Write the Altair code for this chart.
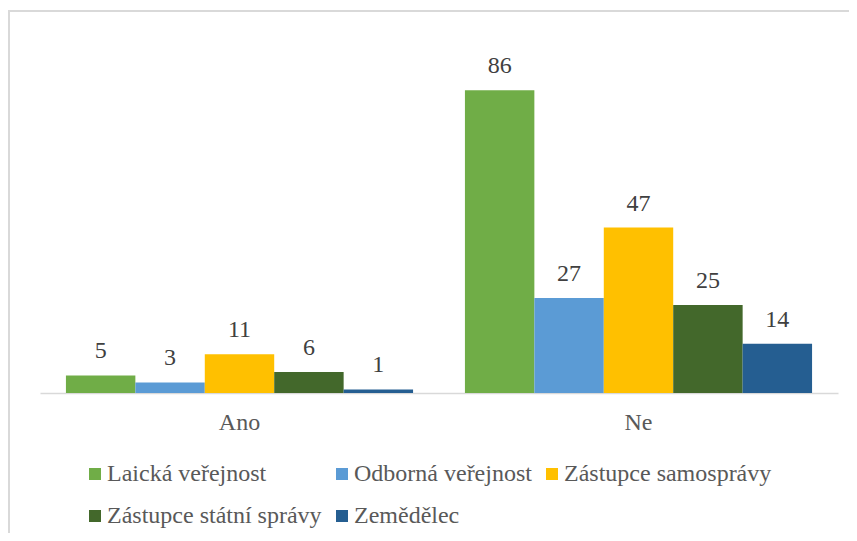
import altair as alt
import pandas as pd

categories = ["Ano", "Ne"]
series = ["Laická veřejnost", "Odborná veřejnost", "Zástupce samosprávy",
          "Zástupce státní správy", "Zemědělec"]
values_ano = [5, 3, 11, 6, 1]
values_ne = [86, 27, 47, 25, 14]
colors = ["#70AD47", "#5B9BD5", "#FFC000", "#43682B", "#255E91"]

rows = []
for cat, vals in zip(categories, [values_ano, values_ne]):
    for s, v in zip(series, vals):
        rows.append({"odpoved": cat, "skupina": s, "pocet": v})
df = pd.DataFrame(rows)

FONT = "'Times New Roman', 'Liberation Serif', 'DejaVu Serif', serif"

base = alt.Chart(df).encode(
    x=alt.X("odpoved:N", sort=categories, title=None,
            scale=alt.Scale(paddingInner=0.13, paddingOuter=0.065),
            axis=alt.Axis(labelAngle=0, ticks=False, tickSize=0, grid=False,
                          domainColor="#d9d9d9", domainWidth=1.5,
                          labelFont=FONT, labelFontSize=24, labelColor="#595959",
                          labelPadding=17)),
    xOffset=alt.XOffset("skupina:N", sort=series,
                        scale=alt.Scale(paddingInner=0, paddingOuter=0)),
    y=alt.Y("pocet:Q", scale=alt.Scale(domain=[0, 100]), axis=None),
)

bars = base.mark_bar().encode(
    color=alt.Color("skupina:N", sort=series,
                    scale=alt.Scale(domain=series, range=colors),
                    legend=alt.Legend(title=None, orient="none", legendX=43, legendY=421,
                                      direction="horizontal", columns=3, gridAlign="each",
                                      columnPadding=8, rowPadding=18,
                                      symbolType="square", symbolSize=144,
                                      symbolStrokeWidth=0, labelOffset=0,
                                      labelFont=FONT, labelFontSize=24,
                                      labelColor="#595959", labelLimit=400))
)

labels = base.mark_text(font=FONT, fontSize=24, color="#404040",
                        baseline="alphabetic", dy=-17).encode(text="pocet:Q")

border_top = alt.Chart(df).mark_rule(color="#d9d9d9", strokeWidth=1.5).encode(
    x=alt.value(-32), x2=alt.value(820), y=alt.value(-30))
border_left = alt.Chart(df).mark_rule(color="#d9d9d9", strokeWidth=1.5).encode(
    x=alt.value(-31), y=alt.value(-30), y2=alt.value(500))

chart = alt.layer(border_top, border_left, bars, labels).properties(
    width=798, height=352,
    autosize=alt.AutoSizeParams(type="none"),
    padding={"left": 32, "top": 33, "right": 11, "bottom": 140},
).configure_view(stroke=None)

chart.save("out.html", embed_options={"renderer": "svg", "actions": False})
